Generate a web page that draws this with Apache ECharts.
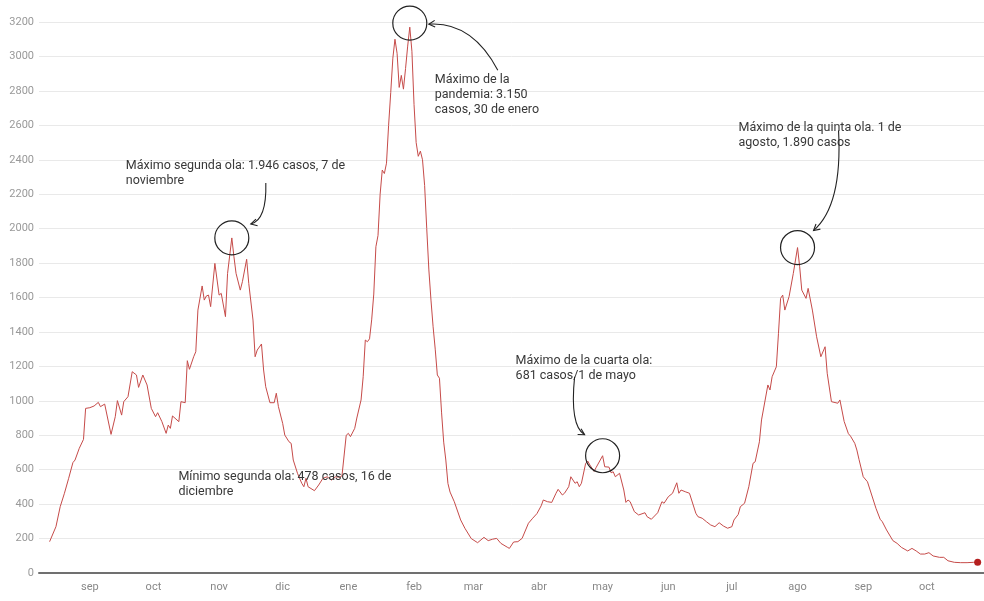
<!DOCTYPE html>
<html>
<head>
<meta charset="utf-8">
<script src="https://cdn.jsdelivr.net/npm/echarts@6/dist/echarts.min.js"></script>
<style>
html,body{margin:0;padding:0;background:#fff;}
#chart{width:984px;height:601px;}
</style>
</head>
<body>
<div id="chart"></div>
<script>
// ---- Data (daily cases) ----
const dates = [
'2020-08-13','2020-08-16','2020-08-18','2020-08-20','2020-08-22','2020-08-24','2020-08-25','2020-08-27','2020-08-29','2020-08-30',
'2020-09-01','2020-09-03','2020-09-05','2020-09-06','2020-09-08','2020-09-11','2020-09-13','2020-09-14','2020-09-16','2020-09-17',
'2020-09-19','2020-09-21','2020-09-23','2020-09-24','2020-09-26','2020-09-28','2020-09-30',
'2020-10-02','2020-10-03','2020-10-05','2020-10-07','2020-10-08','2020-10-09','2020-10-10','2020-10-13','2020-10-14','2020-10-16',
'2020-10-17','2020-10-18','2020-10-20','2020-10-21','2020-10-22','2020-10-24','2020-10-25','2020-10-26','2020-10-27','2020-10-28','2020-10-30',
'2020-11-01','2020-11-02','2020-11-04','2020-11-05','2020-11-07','2020-11-08','2020-11-09','2020-11-11','2020-11-12','2020-11-14',
'2020-11-15','2020-11-17','2020-11-18','2020-11-19','2020-11-21','2020-11-22','2020-11-23','2020-11-25','2020-11-27','2020-11-28','2020-11-29',
'2020-12-01','2020-12-02','2020-12-04','2020-12-05','2020-12-06','2020-12-08','2020-12-10','2020-12-11','2020-12-12','2020-12-13',
'2020-12-16','2020-12-18','2020-12-20','2020-12-22','2020-12-24','2020-12-26','2020-12-28','2020-12-29','2020-12-31',
'2021-01-01','2021-01-02','2021-01-04','2021-01-05','2021-01-07','2021-01-08','2021-01-09','2021-01-10','2021-01-11','2021-01-12',
'2021-01-13','2021-01-14','2021-01-15','2021-01-16','2021-01-17','2021-01-18','2021-01-19','2021-01-20','2021-01-21','2021-01-22',
'2021-01-23','2021-01-24','2021-01-25','2021-01-26','2021-01-27','2021-01-28','2021-01-29','2021-01-30','2021-01-31',
'2021-02-01','2021-02-02','2021-02-03','2021-02-04','2021-02-05','2021-02-06','2021-02-07','2021-02-08','2021-02-09','2021-02-10',
'2021-02-11','2021-02-12','2021-02-13','2021-02-14','2021-02-15','2021-02-16','2021-02-17','2021-02-18','2021-02-20','2021-02-23',
'2021-02-25','2021-02-28',
'2021-03-03','2021-03-06','2021-03-08','2021-03-10','2021-03-12','2021-03-14','2021-03-17','2021-03-18','2021-03-20','2021-03-22',
'2021-03-24','2021-03-27','2021-03-29','2021-03-31',
'2021-04-02','2021-04-03','2021-04-05','2021-04-07','2021-04-09','2021-04-10','2021-04-12','2021-04-13','2021-04-15','2021-04-16',
'2021-04-18','2021-04-19','2021-04-20','2021-04-21','2021-04-23','2021-04-24','2021-04-25','2021-04-27','2021-04-28',
'2021-05-01','2021-05-02','2021-05-04','2021-05-05','2021-05-06','2021-05-07','2021-05-09','2021-05-11','2021-05-12','2021-05-13',
'2021-05-14','2021-05-16','2021-05-18','2021-05-21','2021-05-22','2021-05-24','2021-05-27','2021-05-29','2021-05-30',
'2021-06-01','2021-06-03','2021-06-05','2021-06-06','2021-06-07','2021-06-09','2021-06-11','2021-06-12','2021-06-14','2021-06-15',
'2021-06-17','2021-06-19','2021-06-21','2021-06-23','2021-06-25','2021-06-27','2021-06-29',
'2021-07-01','2021-07-02','2021-07-04','2021-07-05','2021-07-07','2021-07-09','2021-07-11','2021-07-12','2021-07-14','2021-07-15',
'2021-07-18','2021-07-19','2021-07-20','2021-07-22','2021-07-23','2021-07-24','2021-07-25','2021-07-26','2021-07-28','2021-07-30',
'2021-08-01','2021-08-02','2021-08-03','2021-08-05','2021-08-06','2021-08-08','2021-08-10','2021-08-12','2021-08-14','2021-08-15',
'2021-08-17','2021-08-20','2021-08-21','2021-08-23','2021-08-25','2021-08-26','2021-08-28','2021-08-29','2021-08-30',
'2021-09-01','2021-09-03','2021-09-05','2021-09-07','2021-09-09','2021-09-10','2021-09-12','2021-09-15','2021-09-17','2021-09-19',
'2021-09-22','2021-09-24','2021-09-26','2021-09-28','2021-09-30',
'2021-10-02','2021-10-04','2021-10-07','2021-10-09','2021-10-11','2021-10-14','2021-10-17','2021-10-20','2021-10-23','2021-10-25'
];
const cases = [
182,269,385,463,550,641,656,724,776,956,
960,970,991,966,981,805,908,1001,917,995,
1024,1169,1150,1078,1150,1092,956,
908,931,879,811,859,840,912,879,995,989,
1233,1183,1256,1285,1527,1667,1585,1609,1614,1547,1798,
1614,1624,1489,1740,1946,1837,1740,1643,1692,1822,
1682,1469,1256,1295,1330,1179,1082,989,989,1044,966,
869,801,762,753,656,579,521,501,550,501,
478,511,550,559,540,559,556,565,800,
811,792,840,900,1005,1140,1353,1343,1360,1470,
1620,1895,1960,2200,2340,2320,2380,2600,2790,2990,
3100,3018,2820,2890,2810,2930,3060,3170,3030,
2720,2500,2420,2450,2400,2250,2000,1760,1585,1430,
1300,1150,1131,930,760,656,520,470,414,308,
260,200,
176,207,188,196,201,172,150,143,180,182,
201,289,318,345,
390,424,414,410,463,486,453,463,501,559,
521,530,501,521,637,650,627,590,614,
681,617,615,582,588,559,579,482,410,424,
414,356,337,350,327,312,350,414,405,
443,463,524,463,482,472,463,424,347,327,
318,298,279,269,292,273,260,
269,308,340,385,405,501,637,646,762,889,
1092,1063,1140,1198,1392,1595,1614,1527,1605,1740,
1890,1779,1643,1595,1653,1527,1372,1256,1314,1160,
995,986,1005,880,809,795,753,714,660,
559,530,453,376,312,298,250,188,172,149,
128,143,128,110,110,
118,99,91,91,71,62,60,60,62,62
];
const monthLabels = ['ene','feb','mar','abr','may','jun','jul','ago','sep','oct','nov','dic'];
const yTicks = {min: 0, max: 3200, step: 200};

// annotations
const peakDates  = ['2020-11-07','2021-01-30','2021-05-01','2021-08-01'];
const peakValues = [1946, 3170, 681, 1890];
const peakTexts  = [
  'Máximo segunda ola: 1.946 casos, 7 de\nnoviembre',
  'Máximo de la\npandemia: 3.150\ncasos, 30 de enero',
  'Máximo de la cuarta ola:\n681 casos/1 de mayo',
  'Máximo de la quinta ola. 1 de\nagosto, 1.890 casos'
];
const lowDate = '2020-12-16';
const lowValue = 478;
const lowText = 'Mínimo segunda ola: 478 casos, 16 de\ndiciembre';

// ---- Chart ----
const chart = echarts.init(document.getElementById('chart'), null, {renderer: 'canvas'});
const seriesData = dates.map((d, i) => [d, cases[i]]);
const DAY = 86400000;

const option = {
  animation: false,
  backgroundColor: '#ffffff',
  grid: {left: 39, right: 0, top: 22, bottom: 28, containLabel: false},
  xAxis: {
    type: 'time',
    min: '2020-08-08',
    max: '2021-10-28',
    minInterval: 28 * DAY,
    maxInterval: 31 * DAY,
    axisLine: {show: true, lineStyle: {color: '#707070', width: 2}},
    axisTick: {show: false},
    splitLine: {show: false},
    axisLabel: {
      color: '#888', fontSize: 11, fontFamily: 'Roboto, sans-serif', margin: 9,
      showMinLabel: false, showMaxLabel: false,
      formatter: function (val) { return monthLabels[new Date(val).getMonth()]; }
    }
  },
  yAxis: {
    type: 'value',
    min: yTicks.min, max: yTicks.max, interval: yTicks.step,
    axisLine: {show: false},
    axisTick: {show: false},
    splitLine: {lineStyle: {color: '#e9e9e9', width: 1}},
    axisLabel: {color: '#999', fontSize: 11, fontFamily: 'Roboto, sans-serif', margin: 5,
      formatter: function (v) { return String(v); }}
  },
  series: [{
    type: 'line',
    data: seriesData,
    showSymbol: false,
    symbol: 'none',
    lineStyle: {color: '#c64b49', width: 1},
    markPoint: {
      silent: true,
      label: {show: false},
      data: peakDates.map((d, i) => ({
        coord: [d, peakValues[i]],
        symbol: 'circle',
        symbolSize: 34,
        symbolOffset: i === 1 ? [0, -4] : [0, 0],
        itemStyle: {color: 'rgba(0,0,0,0)', borderColor: '#222', borderWidth: 1.2}
      })).concat([{
        coord: [dates[dates.length - 1], cases[cases.length - 1]],
        symbol: 'circle',
        symbolSize: 7,
        itemStyle: {color: '#b52020', borderWidth: 0}
      }])
    }
  }]
};
chart.setOption(option);

// ---- Annotation text & arrows placed relative to data points ----
const px = (d, v) => chart.convertToPixel({gridIndex: 0}, [d, v]);
const textStyle = {fill: '#383838', font: '12.5px Roboto, sans-serif', lineHeight: 15, verticalAlign: 'top'};

// offsets relative to each peak: text [dx, dy]; arrow start, control, end
const layout = [
  {t: [-106, -80], s: [34, -55], c: [35, -18], e: [19, -14]},
  {t: [25, 45],    s: [88, 43],  c: [62, -6],  e: [19, -3]},
  {t: [-87, -102], s: [-28, -79], c: [-33, -30], e: [-18, -21]},
  {t: [-59, -127], s: [41, -117], c: [45, -42], e: [16, -17]}
];

const graphics = [];
peakDates.forEach((d, i) => {
  const p = px(d, peakValues[i]);
  const L = layout[i];
  graphics.push({type: 'text', x: p[0] + L.t[0], y: p[1] + L.t[1], style: Object.assign({text: peakTexts[i]}, textStyle), z: 10});
  const sx = p[0] + L.s[0], sy = p[1] + L.s[1];
  const cx = p[0] + L.c[0], cy = p[1] + L.c[1];
  const ex = p[0] + L.e[0], ey = p[1] + L.e[1];
  graphics.push({type: 'bezierCurve', shape: {x1: sx, y1: sy, x2: ex, y2: ey, cpx1: cx, cpy1: cy},
    style: {stroke: '#222', lineWidth: 1.1, fill: null}, z: 10});
  const ang = Math.atan2(ey - cy, ex - cx);
  const len = 7, spread = 0.5;
  graphics.push({type: 'polyline', shape: {points: [
      [ex - len * Math.cos(ang - spread), ey - len * Math.sin(ang - spread)],
      [ex, ey],
      [ex - len * Math.cos(ang + spread), ey - len * Math.sin(ang + spread)]
    ]}, style: {stroke: '#222', lineWidth: 1.1, fill: null}, z: 10});
});
const lp = px(lowDate, lowValue);
graphics.push({type: 'text', x: lp[0] - 136, y: lp[1] - 21, style: Object.assign({text: lowText}, textStyle), z: 10});

chart.setOption({graphic: graphics});
</script>
</body>
</html>
